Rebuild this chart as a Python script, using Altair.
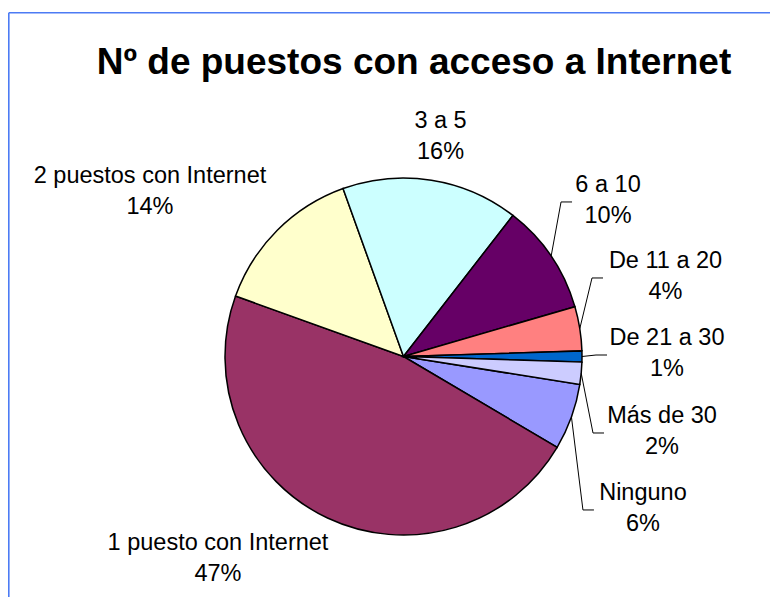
import math
import altair as alt
import pandas as pd

# ---- data ----
categories = ["Ninguno", "1 puesto con Internet", "2 puestos con Internet", "3 a 5",
              "6 a 10", "De 11 a 20", "De 21 a 30", "Más de 30"]
percentages = [6, 47, 14, 16, 10, 4, 1, 2]
colors = ["#9999FF", "#993366", "#FFFFCC", "#CCFFFF",
          "#660066", "#FF8080", "#0066CC", "#CCCCFF"]
title_text = "Nº de puestos con acceso a Internet"

# ---- layout: nudges of labels / leader ends from the slice edge at its mid angle ----
label_dx = [71.5, -109.5, -127.3, 9.1, 56.9, 85.7, 85.0, 80.8]
label_dy = [83.0, 32.0, -47.3, -52.2, -64.2, -60.6, -11.5, 49.7]
leader_on = [True, False, False, False, True, True, True, True]
leader_dx = [22.5, 0, 0, 0, 20.9, 23.2, 25.0, 22.8]
leader_dy = [93.0, 0, 0, 0, -54.2, -50.6, -1.5, 59.7]

W, H = 762, 589
CX, CY, R = 395.5, 348.5, 178.5
START = math.radians(99)
FONT = "Liberation Sans"
BORDER = "#4C7BF4"

df = pd.DataFrame({
    "category": categories,
    "value": percentages,
    "idx": list(range(len(categories))),
    "label": [f"{c}\n{v}%" for c, v in zip(categories, percentages)],
    "ldx": label_dx, "ldy": label_dy,
    "leader": leader_on, "tdx": leader_dx, "tdy": leader_dy,
})
total = sum(percentages)

base = alt.Chart(df)

pie = base.mark_arc(radius=R, stroke="black", strokeWidth=1.5).encode(
    theta=alt.Theta("value:Q", stack=True,
                    scale=alt.Scale(domain=[0, total], range=[START, START + 2 * math.pi])),
    order=alt.Order("idx:Q"),
    color=alt.Color("category:N", scale=alt.Scale(domain=categories, range=colors), legend=None),
    x=alt.value(CX),
    y=alt.value(CY),
)

geo = (
    base.transform_joinaggregate(total="sum(value)")
    .transform_window(cum="sum(value)", sort=[alt.SortField("idx", order="ascending")], frame=[None, 0])
    .transform_calculate(mid=f"{START} + 2*PI*(datum.cum - datum.value/2)/datum.total")
    .transform_calculate(ex=f"{CX} + {R}*sin(datum.mid)", ey=f"{CY} - {R}*cos(datum.mid)")
    .transform_calculate(lx="datum.ex + datum.ldx", ly="datum.ey + datum.ldy",
                         tx="datum.ex + datum.tdx", ty="datum.ey + datum.tdy",
                         kx="datum.ex + datum.tdx - 11")
)

labels = geo.mark_text(align="center", baseline="alphabetic", lineBreak="\n",
                       fontSize=23.5, lineHeight=31, font=FONT, color="black").encode(
    x=alt.X("lx:Q", scale=None, axis=None),
    y=alt.Y("ly:Q", scale=None, axis=None),
    text="label:N",
)

lead1 = geo.transform_filter("datum.leader").mark_rule(color="black", strokeWidth=1).encode(
    x=alt.X("ex:Q", scale=None, axis=None), y=alt.Y("ey:Q", scale=None, axis=None),
    x2="kx:Q", y2="ty:Q",
)
lead2 = geo.transform_filter("datum.leader").mark_rule(color="black", strokeWidth=1).encode(
    x=alt.X("kx:Q", scale=None, axis=None), y=alt.Y("ty:Q", scale=None, axis=None),
    x2="tx:Q", y2="ty:Q",
)

title = alt.Chart(pd.DataFrame({"t": [title_text]})).mark_text(
    align="center", baseline="alphabetic", fontSize=37, fontWeight="bold", font=FONT, color="black"
).encode(x=alt.value(414 - 8), y=alt.value(66), text="t:N")

frame_df = pd.DataFrame({"t": [0]})
frame_top = alt.Chart(frame_df).mark_rule(color=BORDER, strokeWidth=1.6).encode(
    x=alt.value(0.8), x2=alt.value(W), y=alt.value(4.8), y2=alt.value(4.8))
frame_left = alt.Chart(frame_df).mark_rule(color=BORDER, strokeWidth=1.6).encode(
    x=alt.value(0.8), x2=alt.value(0.8), y=alt.value(4.8), y2=alt.value(H))

chart = alt.layer(frame_top, frame_left, pie, lead1, lead2, labels, title).properties(
    width=W, height=H, padding=0,
    autosize=alt.AutoSizeParams(type="none"),
).configure_view(stroke=None)

chart.save("out.html", embed_options={"renderer": "svg", "actions": False})
